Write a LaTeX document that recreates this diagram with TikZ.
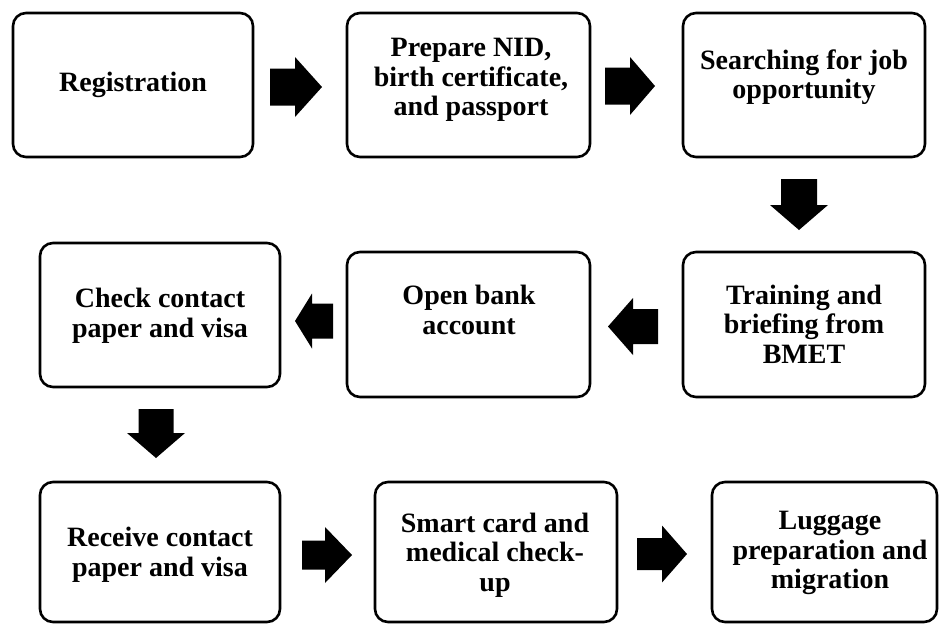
\documentclass[tikz,border=0pt]{standalone}
\usepackage{fontspec}
\setmainfont{Liberation Serif}
\usetikzlibrary{calc}
\tikzset{
  stepbox/.style={draw=black, line width=2.6pt, rounded corners=13pt, fill=white, inner sep=0pt},
  steptext/.style={align=center, text=black, inner sep=0pt, font=\fontsize{28}{29.5}\selectfont\bfseries},
  arrowfill/.style={fill=black}
}
\newcommand\blockarr[6]{%
  \fill[arrowfill,shift={(#1)},rotate=#2] (-#3/2,-#5/2) -- ({#3/2-#6},-#5/2) -- ({#3/2-#6},-#4/2) -- (#3/2,0) -- ({#3/2-#6},#4/2) -- ({#3/2-#6},#5/2) -- (-#3/2,#5/2) -- cycle;}
\begin{document}
\begin{tikzpicture}[x=1pt,y=-1pt]
\useasboundingbox[fill=white] (0,0) rectangle (940,625);
% boxes
\node[stepbox, minimum width=240pt, minimum height=144pt] (b1) at (133,85) {};
\node[stepbox, minimum width=243pt, minimum height=144pt] (b2) at (468.5,85) {};
\node[stepbox, minimum width=242pt, minimum height=144pt] (b3) at (804,85) {};
\node[stepbox, minimum width=242pt, minimum height=145pt] (b4) at (804,324.5) {};
\node[stepbox, minimum width=243pt, minimum height=145pt] (b5) at (468.5,324.5) {};
\node[stepbox, minimum width=240pt, minimum height=144pt] (b6) at (160,315) {};
\node[stepbox, minimum width=240pt, minimum height=140pt] (b7) at (160,552) {};
\node[stepbox, minimum width=242pt, minimum height=140pt] (b8) at (496,552) {};
\node[stepbox, minimum width=225pt, minimum height=140pt] (b9) at (824.5,552) {};
% texts
\node[steptext] (t1) at (133,85) {Registration};
\node[steptext] (t2) at (471,80) {Prepare NID,\\birth certificate,\\and passport};
\node[steptext] (t3) at (804,77) {Searching for job\\opportunity};
\node[steptext] (t4) at (804,324) {Training and\\briefing from\\BMET};
\node[steptext] (t5) at (469,310) {Open bank\\account};
\node[steptext] (t6) at (160,316) {Check contact\\paper and visa};
\node[steptext] (t7) at (160,555) {Receive contact\\paper and visa};
\node[steptext] (t8) at (495,555) {Smart card and\\medical check-\\up};
\node[steptext] (t9) at (830,553) {Luggage\\preparation and\\migration};
% block arrows
\coordinate (a1) at (296,87);
\coordinate (a2) at (630,86);
\coordinate (a3) at (799,204.5);
\coordinate (a4) at (633,326.5);
\coordinate (a5) at (314,321);
\coordinate (a6) at (156,433.5);
\coordinate (a7) at (327,555);
\coordinate (a8) at (662,554);
\blockarr{a1}{0}{52}{60}{37}{27}
\blockarr{a2}{0}{50}{58}{37}{25}
\blockarr{a3}{-90}{51}{58}{36}{25}
\blockarr{a4}{180}{50}{57}{35}{25}
\blockarr{a5}{180}{38}{55}{35}{17}
\blockarr{a6}{-90}{49}{58}{35}{25}
\blockarr{a7}{0}{50}{56}{29}{27}
\blockarr{a8}{0}{50}{57}{32}{25}
\end{tikzpicture}
\end{document}
